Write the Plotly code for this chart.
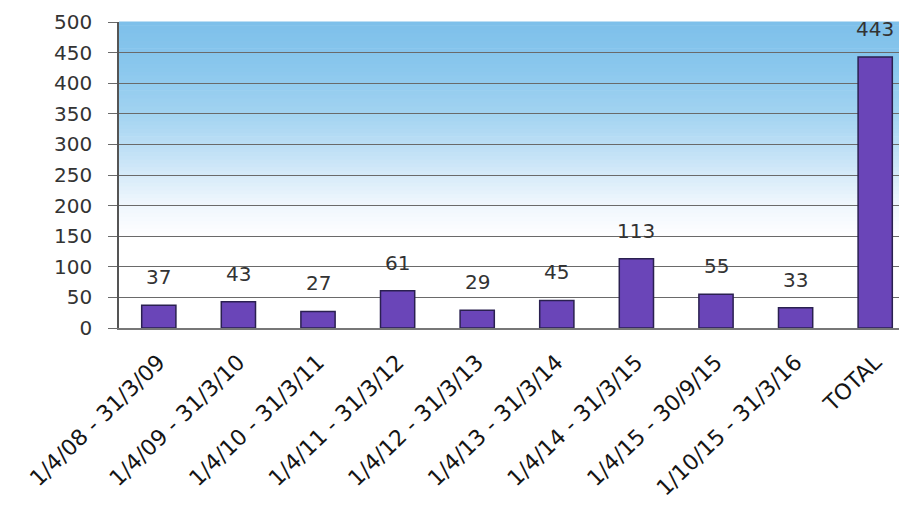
import plotly.graph_objects as go

categories = ["1/4/08 - 31/3/09", "1/4/09 - 31/3/10", "1/4/10 - 31/3/11",
              "1/4/11 - 31/3/12", "1/4/12 - 31/3/13", "1/4/13 - 31/3/14",
              "1/4/14 - 31/3/15", "1/4/15 - 30/9/15", "1/10/15 - 31/3/16",
              "TOTAL"]
values = [37, 43, 27, 61, 29, 45, 113, 55, 33, 443]
y_ticks = list(range(0, 501, 50))

fig = go.Figure()
fig.add_trace(go.Bar(
    x=categories, y=values,
    marker=dict(color="#6a45b8", line=dict(color="#2a2050", width=1.5)),
    width=0.43, hoverinfo="skip"
))

# value labels above bars
for c, v in zip(categories, values):
    fig.add_annotation(x=c, y=v, text=str(v), showarrow=False,
                       yanchor="bottom", yshift=14,
                       font=dict(family="DejaVu Sans", size=20, color="#333333"))

# background vertical gradient (blue top -> white bottom)
stops = [(0.0, (255, 255, 255)), (0.30, (255, 255, 255)), (0.42, (236, 245, 252)),
         (0.55, (200, 228, 247)), (0.70, (162, 211, 241)), (0.85, (138, 199, 237)),
         (1.0, (126, 192, 234))]

def col(f):
    for (f0, c0), (f1, c1) in zip(stops[:-1], stops[1:]):
        if f0 <= f <= f1:
            t = (f - f0) / (f1 - f0) if f1 > f0 else 0
            return "rgb(%d,%d,%d)" % tuple(round(a + (b - a) * t) for a, b in zip(c0, c1))
    return "rgb(255,255,255)"

n = 80
for i in range(n):
    f0 = i / n
    f1 = (i + 1) / n
    fig.add_shape(type="rect", xref="x domain", yref="y domain",
                  x0=0, x1=1, y0=f0, y1=f1 + 0.002, layer="below",
                  line=dict(width=0), fillcolor=col((f0 + f1) / 2))

fig.update_layout(
    width=907, height=509,
    margin=dict(l=111, r=0, t=14, b=189),
    paper_bgcolor="white", plot_bgcolor="white",
    showlegend=False, bargap=0.57,
    font=dict(family="DejaVu Sans", color="#222222"),
)
fig.update_xaxes(
    range=[-0.5, 9.5], tickangle=-44,
    tickfont=dict(family="DejaVu Sans", size=22, color="#151515"),
    showline=True, linecolor="#777777", linewidth=1.5,
    showgrid=False, ticks="", ticklabelstandoff=11,
    automargin=False,
)
fig.update_yaxes(
    range=[0, 500], tickvals=y_ticks,
    tickfont=dict(family="DejaVu Sans", size=20, color="#333333"),
    showline=True, linecolor="#555555", linewidth=1.5,
    showgrid=True, gridcolor="#6a6a6a", gridwidth=1.3,
    ticks="outside", ticklen=9, tickcolor="#6a6a6a", tickwidth=1.3,
    zeroline=False, layer="below traces", ticklabelstandoff=12,
    automargin=False,
)

fig.write_html("out.html")
